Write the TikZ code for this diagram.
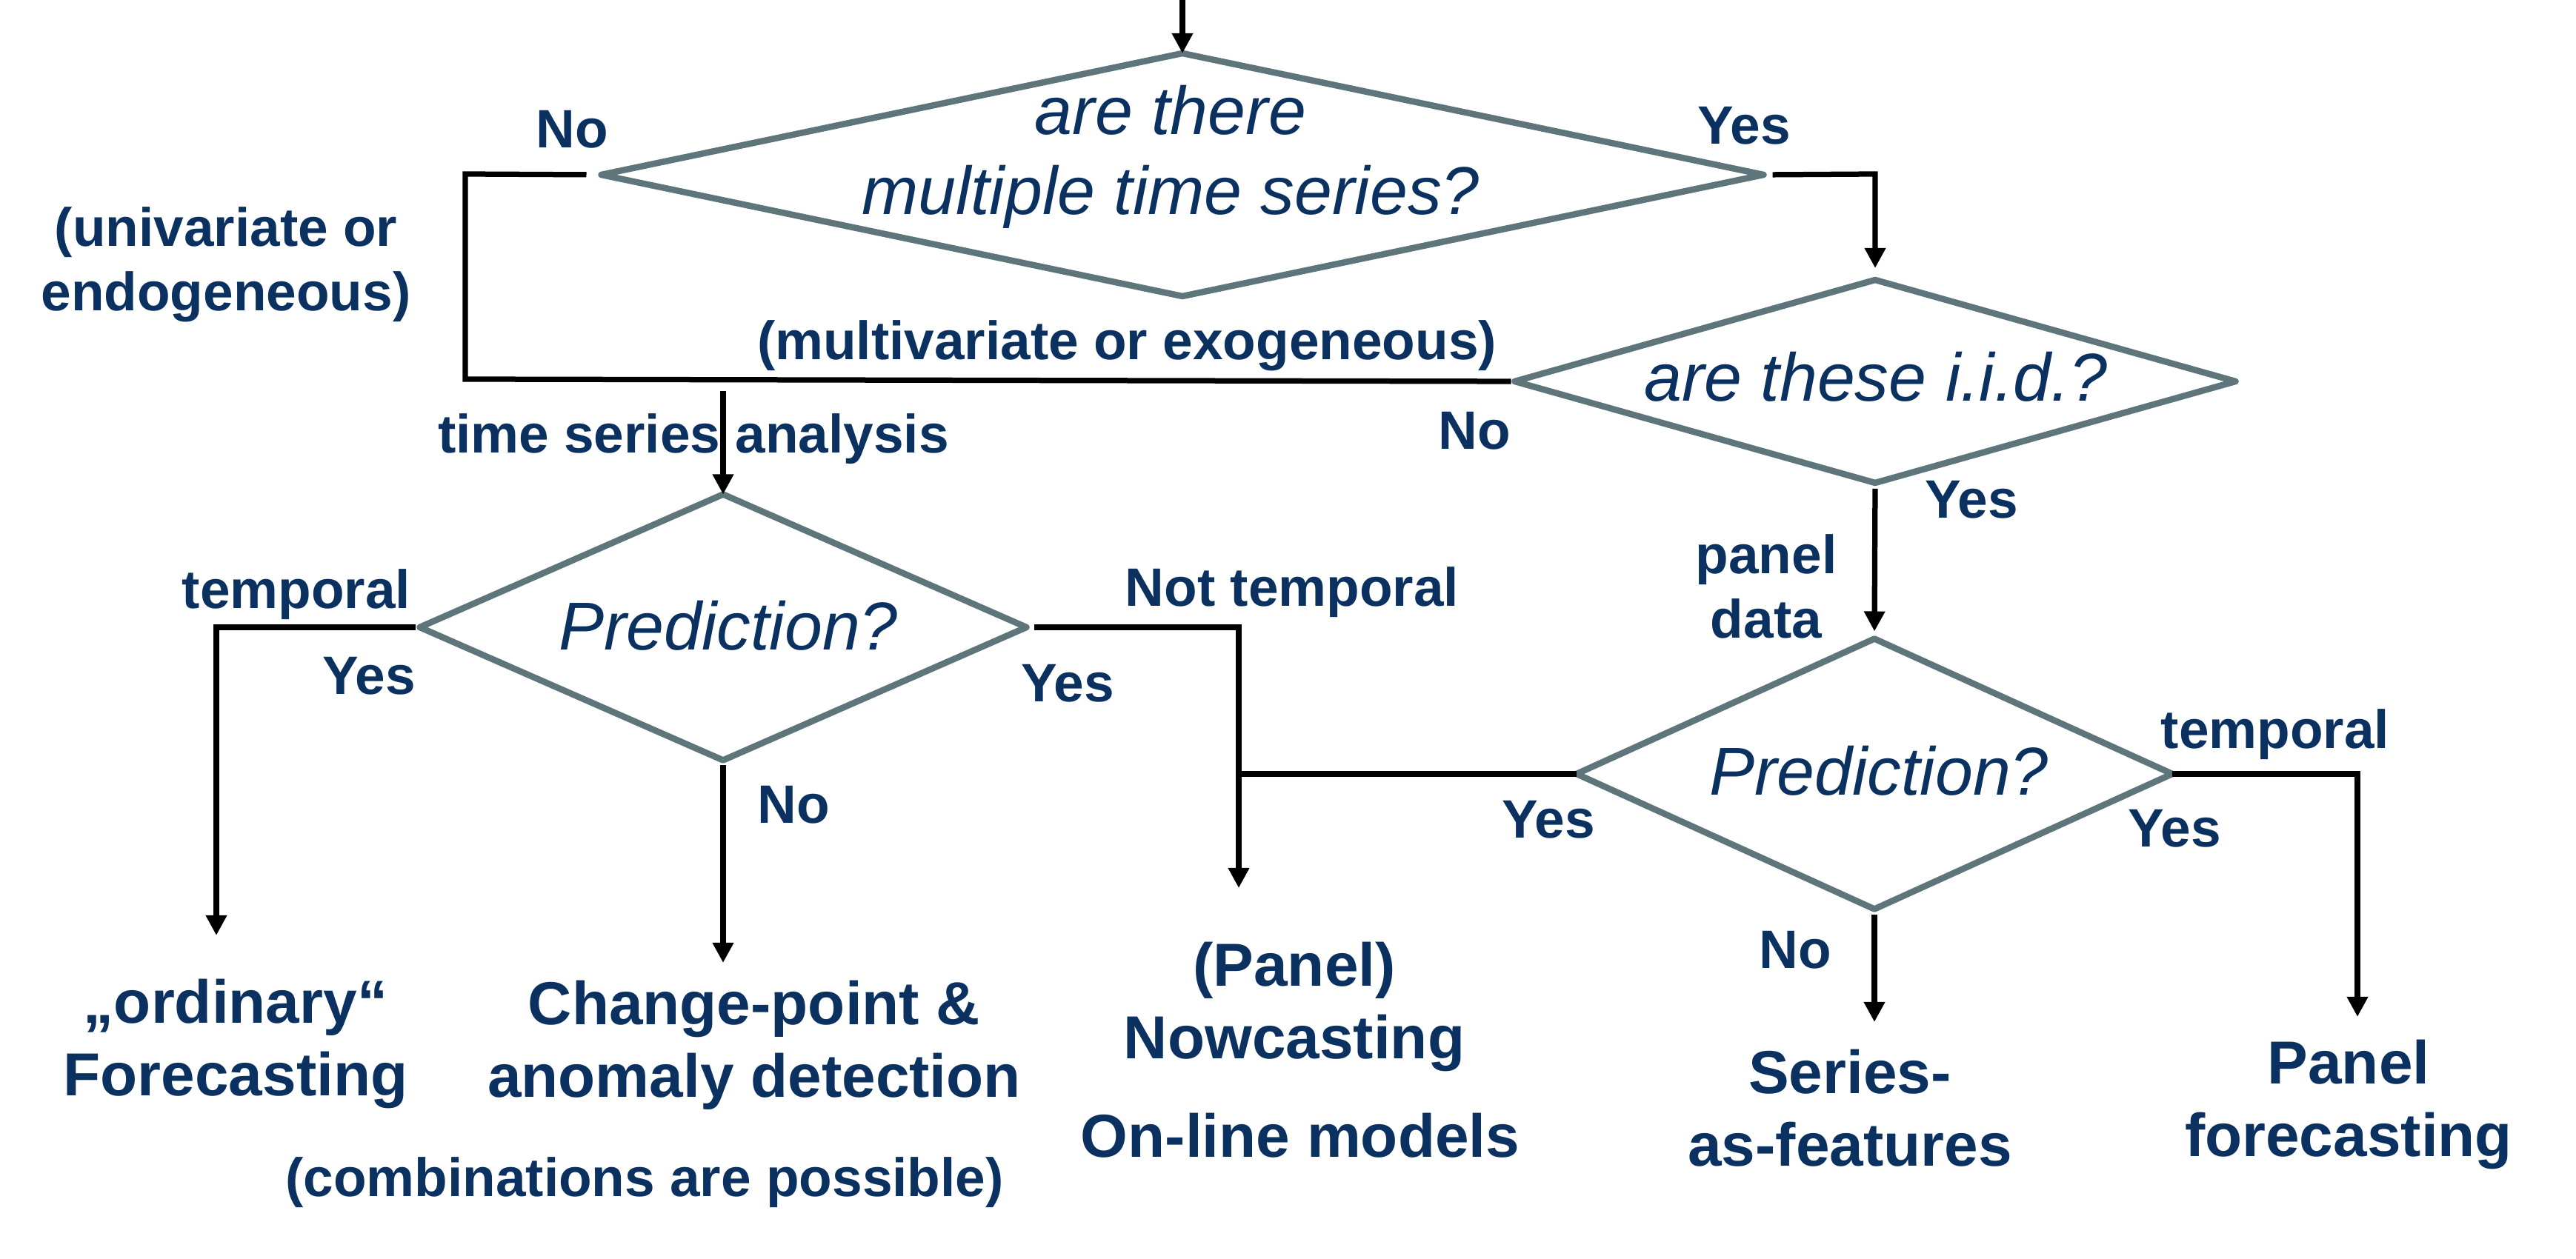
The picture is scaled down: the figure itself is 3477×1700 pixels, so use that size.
\documentclass[tikz,border=0pt]{standalone}
\usepackage{fontspec}
\setmainfont{Liberation Sans}
\usetikzlibrary{shapes.geometric,arrows.meta}
\definecolor{navy}{HTML}{0B3161}
\definecolor{dgray}{HTML}{5E757B}
\begin{document}
\begin{tikzpicture}[x=0.2pt,y=-0.2pt,
  dia/.style={diamond, draw=dgray, line width=1.7pt, line join=round, inner sep=0pt, outer sep=0pt},
  qtext/.style={text=navy, font=\itshape\fontsize{18.3}{21.6}\selectfont, inner sep=0pt, align=center},
  lab/.style={text=navy, font=\bfseries\fontsize{14.6}{17.4}\selectfont, inner sep=0pt, align=center},
  res/.style={text=navy, font=\bfseries\fontsize{16.4}{19.6}\selectfont, inner sep=0pt, align=center},
  ln/.style={draw=black, line width=1.45pt},
  arr/.style={ln, -{Triangle[length=5.4pt,width=5.4pt]}}
]
\useasboundingbox (0,0) rectangle (3477,1700);

% diamonds
\node[dia, minimum width=313.8pt, minimum height=65.6pt] (d1) at (1596,236) {};
\node[dia, minimum width=194.6pt, minimum height=54.8pt] (d2) at (2531,515) {};
\node[dia, minimum width=163.8pt, minimum height=71.8pt] (d3) at (976,847) {};
\node[dia, minimum width=160.8pt, minimum height=73pt] (d4) at (2530,1045) {};

% question texts
\node[qtext] (d1t) at (1580,212) {are there\\multiple time series?};
\node[qtext, anchor=base] (d2t) at (2532,542) {are these i.i.d.?};
\node[qtext, anchor=base] (d3t) at (983,878) {Prediction?};
\node[qtext, anchor=base] (d4t) at (2536,1074) {Prediction?};

% coordinates
\coordinate (top) at (1596,0);
\coordinate (c1) at (628,235);
\coordinate (c2) at (628,512);
\coordinate (c3) at (976,528);
\coordinate (c4) at (2531,235);
\coordinate (c5) at (292,847);
\coordinate (c6) at (1672,847);
\coordinate (c7) at (1672,1045);
\coordinate (c8) at (3182,1045);
\coordinate (r1) at (292,1263);
\coordinate (r2) at (976,1300);
\coordinate (r3) at (1672,1199);
\coordinate (r4) at (3182,1373);
\coordinate (r5) at (2530,1380);

% connectors
\draw[arr] (top) -- (d1.north);
\draw[ln, shorten <=4pt, shorten >=1pt] (d1.west) -- (c1) -- (c2) -- (d2.west);
\draw[arr] (c3) -- (d3.north);
\draw[arr, shorten <=2.4pt, shorten >=3.2pt] (d1.east) -- (c4) -- (d2.north);
\draw[arr, shorten <=1.6pt, shorten >=2pt] (d2.south) -- (d4.north);
\draw[arr, shorten <=1.2pt] (d3.west) -- (c5) -- (r1);
\draw[arr, shorten <=1.4pt] (d3.south) -- (r2);
\draw[arr, shorten <=2pt] (d3.east) -- (c6) -- (r3);
\draw[ln] (d4.west) -- (c7);
\draw[arr] (d4.east) -- (c8) -- (r4);
\draw[arr, shorten <=1.6pt] (d4.south) -- (r5);

% labels
\node[lab, anchor=base] (l1) at (772,200) {No};
\node[lab, anchor=base] (l2) at (2354,195) {Yes};
\node[lab] (l3) at (305,357) {(univariate or\\endogeneous)};
\node[lab, anchor=base] (l4) at (1521,486) {(multivariate or exogeneous)};
\node[lab, anchor=base] (l5) at (936,612) {time series analysis};
\node[lab, anchor=base] (l6) at (1990,607) {No};
\node[lab, anchor=base] (l7) at (2661,700) {Yes};
\node[lab] (l8) at (2384,792) {panel\\data};
\node[lab, anchor=base] (l9) at (400,822) {temporal};
\node[lab, anchor=base] (l10) at (498,938) {Yes};
\node[lab, anchor=base] (l11) at (1441,948) {Yes};
\node[lab, anchor=base] (l12) at (1071,1112) {No};
\node[lab, anchor=base] (l13) at (1744,819) {Not temporal};
\node[lab, anchor=base] (l14) at (2090,1132) {Yes};
\node[lab, anchor=base] (l15) at (3071,1011) {temporal};
\node[lab, anchor=base] (l16) at (2935,1144) {Yes};
\node[lab, anchor=base] (l17) at (2423,1308) {No};
\node[lab, anchor=base] (l18) at (870,1615) {(combinations are possible)};

% results
\node[res] (o1) at (318,1409) {„ordinary“\\Forecasting};
\node[res] (o2) at (1018,1411) {Change-point \&\\anomaly detection};
\node[res] (o3) at (1747,1359) {(Panel)\\Nowcasting};
\node[res, anchor=base] (o4) at (1755,1563) {On-line models};
\node[res] (o5) at (2497,1496) {Series-\\as-features};
\node[res] (o6) at (3170,1491) {Panel\\forecasting};
\end{tikzpicture}
\end{document}
